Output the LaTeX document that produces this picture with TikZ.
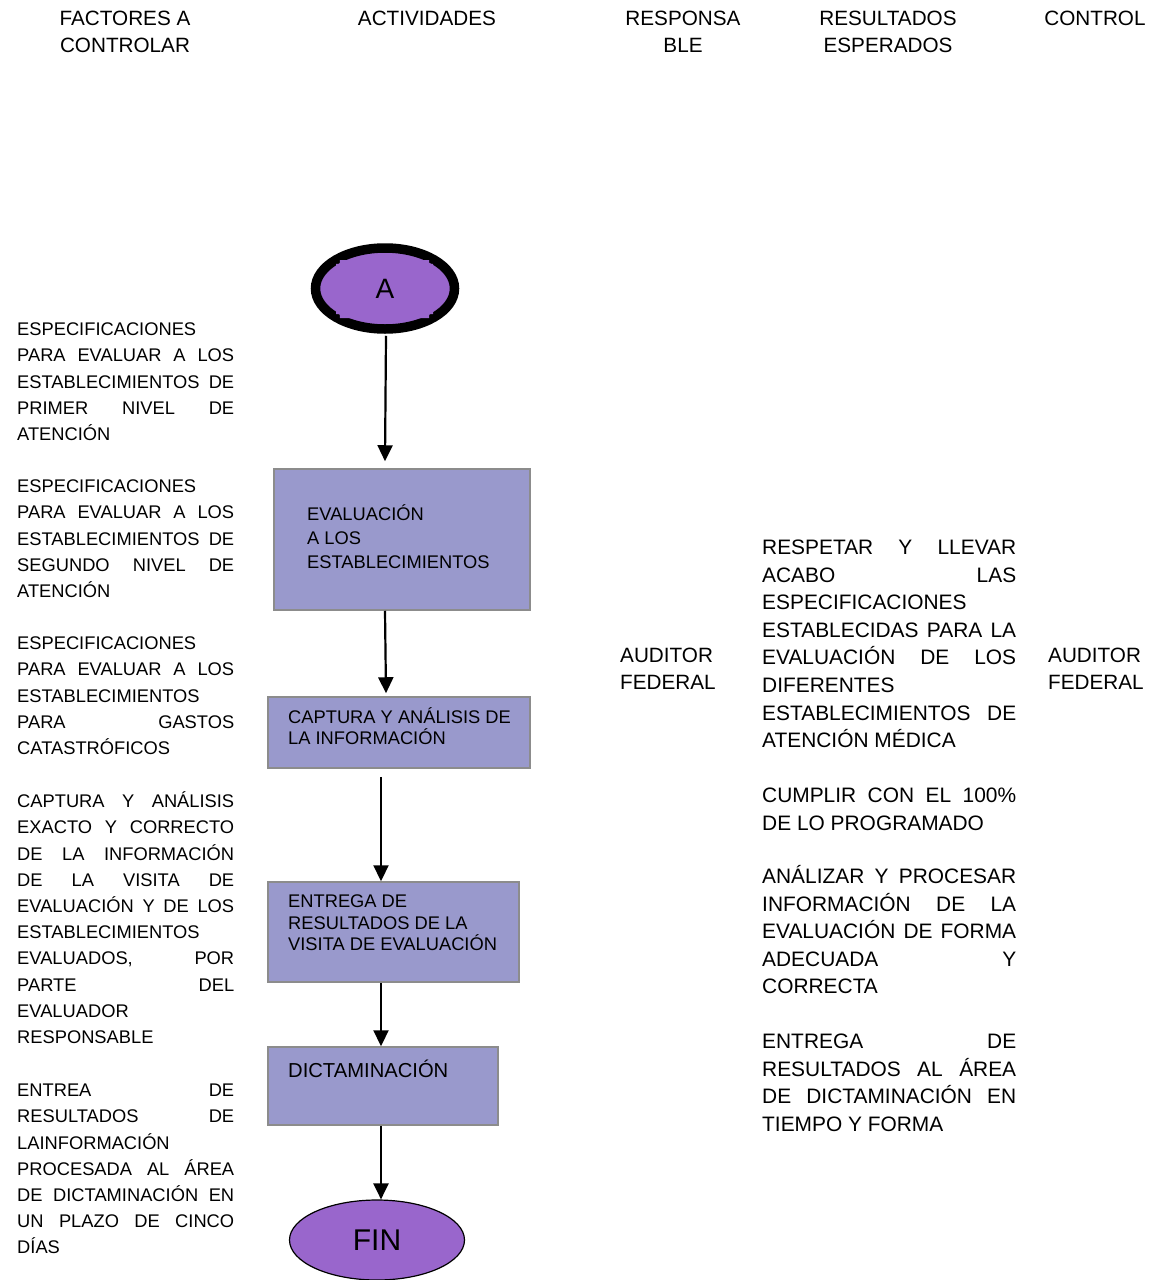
\documentclass[tikz,border=0pt]{standalone}
\usepackage{fontspec}
\setmainfont{Liberation Sans}
\usetikzlibrary{shapes.geometric,arrows.meta}
\definecolor{boxfill}{HTML}{9999CC}
\definecolor{boxline}{HTML}{8C8C8C}
\definecolor{ovalfill}{HTML}{9966CC}
\newcommand\J[1]{\makebox[\linewidth][s]{#1}}
\newcommand\lfnt{\fontsize{18.3}{26.2}\selectfont}
\newcommand\rfnt{\fontsize{20.9}{27.6}\selectfont}
\tikzset{
  procbox/.style={rectangle, draw=boxline, line width=1.5pt, fill=boxfill, inner sep=0pt},
  txt/.style={inner sep=0pt, anchor=base west},
  head/.style={inner sep=0pt, anchor=base, font=\fontsize{20.7}{27}\selectfont},
  arr/.style={line width=2.2pt, -{Triangle[width=15pt,length=16pt]}}
}
\begin{document}
\begin{tikzpicture}[x=1pt,y=-1pt]
\useasboundingbox (0,0) rectangle (1158,1280);
% headers
\node[head] (h1a) at (125,25.3) {FACTORES A};
\node[head] (h1b) at (125,52.3) {CONTROLAR};
\node[head] (h2) at (427,25.3) {ACTIVIDADES};
\node[head] (h3a) at (683,25.3) {RESPONSA};
\node[head] (h3b) at (683,52.3) {BLE};
\node[head] (h4a) at (888,25.3) {RESULTADOS};
\node[head] (h4b) at (888,52.3) {ESPERADOS};
\node[head] (h5) at (1095,25.3) {CONTROL};
% left column
\node[txt] (l1) at (17,335.6) {\parbox[t]{217pt}{\lfnt ESPECIFICACIONES\\\J{PARA EVALUAR A LOS}\\\J{ESTABLECIMIENTOS DE}\\\J{PRIMER NIVEL DE}\\ATENCIÓN}};
\node[txt] (l2) at (17,492.6) {\parbox[t]{217pt}{\lfnt ESPECIFICACIONES\\\J{PARA EVALUAR A LOS}\\\J{ESTABLECIMIENTOS DE}\\\J{SEGUNDO NIVEL DE}\\ATENCIÓN}};
\node[txt] (l3) at (17,649.6) {\parbox[t]{217pt}{\lfnt ESPECIFICACIONES\\\J{PARA EVALUAR A LOS}\\ESTABLECIMIENTOS\\\J{PARA GASTOS}\\CATASTRÓFICOS}};
\node[txt] (l4) at (17,807.6) {\parbox[t]{217pt}{\lfnt \J{CAPTURA Y ANÁLISIS}\\\J{EXACTO Y CORRECTO}\\\J{DE LA INFORMACIÓN}\\\J{DE LA VISITA DE}\\\J{EVALUACIÓN Y DE LOS}\\ESTABLECIMIENTOS\\\J{EVALUADOS, POR}\\\J{PARTE DEL}\\EVALUADOR\\RESPONSABLE}};
\node[txt] (l5) at (17,1096.6) {\parbox[t]{217pt}{\lfnt \J{ENTREA DE}\\\J{RESULTADOS DE}\\LAINFORMACIÓN\\\J{PROCESADA AL ÁREA}\\\J{DE DICTAMINACIÓN EN}\\\J{UN PLAZO DE CINCO}\\DÍAS}};
% right column
\node[txt] (r1) at (762,554.5) {\parbox[t]{254pt}{\rfnt \J{RESPETAR Y LLEVAR}\\\J{ACABO LAS}\\ESPECIFICACIONES\\\J{ESTABLECIDAS PARA LA}\\\J{EVALUACIÓN DE LOS}\\DIFERENTES\\\J{ESTABLECIMIENTOS DE}\\ATENCIÓN MÉDICA}};
\node[txt] (r2) at (762,802.5) {\parbox[t]{254pt}{\rfnt \J{CUMPLIR CON EL 100\%}\\DE LO PROGRAMADO}};
\node[txt] (r3) at (762,883.5) {\parbox[t]{254pt}{\rfnt \J{ANÁLIZAR Y PROCESAR}\\\J{INFORMACIÓN DE LA}\\\J{EVALUACIÓN DE FORMA}\\\J{ADECUADA Y}\\CORRECTA}};
\node[txt] (r4) at (762,1048.5) {\parbox[t]{254pt}{\rfnt \J{ENTREGA DE}\\\J{RESULTADOS AL ÁREA}\\\J{DE DICTAMINACIÓN EN}\\TIEMPO Y FORMA}};
% responsible / control
\node[txt] (aud1) at (620,662.5) {\parbox[t]{120pt}{\fontsize{20.7}{27}\selectfont AUDITOR\\FEDERAL}};
\node[txt] (aud2) at (1048,662.5) {\parbox[t]{110pt}{\fontsize{20.7}{27}\selectfont AUDITOR\\FEDERAL}};
% flow
\node[ellipse, draw=black, line width=9.5pt, fill=ovalfill, minimum width=139pt, minimum height=81pt, inner sep=0pt] (A) at (385,288.5) {};
\fill[ovalfill] (340,260) -- (429,260) .. controls (429,264) .. (433,264) -- (433,314) .. controls (429,314) .. (429,318) -- (340,318) .. controls (340,314) .. (336,314) -- (336,264) .. controls (340,264) .. (340,260) -- cycle;
\node[inner sep=0pt, font=\fontsize{28}{30}\selectfont] (Alabel) at (A.center) {A};
\node[procbox, minimum width=256pt, minimum height=141pt] (b1) at (402,539.5) {};
\node[procbox, minimum width=262pt, minimum height=71pt] (b2) at (399,732.5) {};
\node[procbox, minimum width=251pt, minimum height=100pt] (b3) at (393.5,932) {};
\node[procbox, minimum width=230pt, minimum height=78pt] (b4) at (383,1086) {};
\node[ellipse, draw=black, line width=1.2pt, fill=ovalfill, minimum width=175pt, minimum height=80pt, inner sep=0pt, font=\fontsize{30}{32}\selectfont] (fin) at (377,1240) {FIN};
% box labels
\node[txt] (t1) at (307,520.5) {\parbox[t]{210pt}{\fontsize{18.3}{24}\selectfont EVALUACIÓN\\A LOS\\ESTABLECIMIENTOS}};
\node[txt] (t2) at (288,723.5) {\parbox[t]{240pt}{\fontsize{18.3}{21}\selectfont CAPTURA Y ANÁLISIS DE\\LA INFORMACIÓN}};
\node[txt] (t3) at (288,907.5) {\parbox[t]{230pt}{\fontsize{18.3}{21.5}\selectfont ENTREGA DE\\RESULTADOS DE LA\\VISITA DE EVALUACIÓN}};
\node[txt] (t4) at (288,1077.2) {\fontsize{20.2}{24}\selectfont DICTAMINACIÓN};
% connectors
\draw[arr] ([xshift=1pt,yshift=-2pt]A.south) -- ([xshift=-17pt,yshift=7pt]b1.north);
\draw[arr] ([xshift=-17pt]b1.south) -- ([xshift=-13pt,yshift=3pt]b2.north);
\draw[arr] ([xshift=-18pt,yshift=-8pt]b2.south) -- ([xshift=-12.5pt]b3.north);
\draw[arr] ([xshift=-12.5pt]b3.south) -- ([xshift=-2pt]b4.north);
\draw[arr] ([xshift=-2pt]b4.south) -- ([xshift=4pt]fin.north);
\end{tikzpicture}
\end{document}
